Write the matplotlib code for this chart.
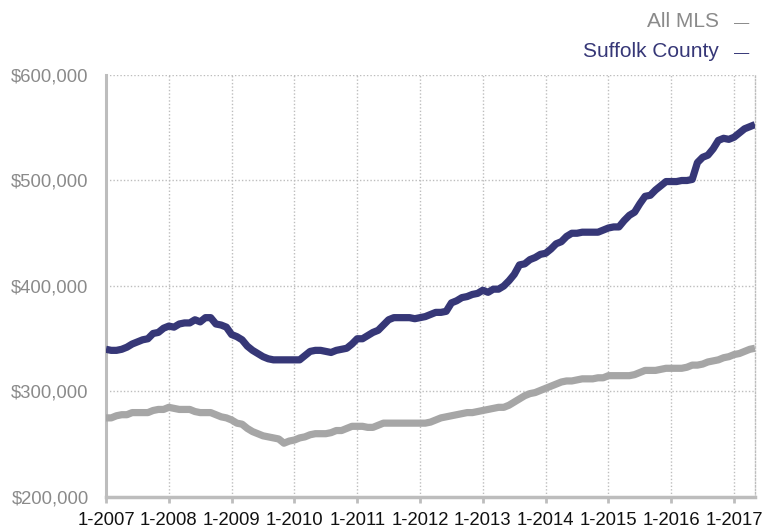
import matplotlib
matplotlib.use("Agg")
import matplotlib.pyplot as plt
import numpy as np

plt.rcParams['font.family'] = ['Liberation Sans', 'DejaVu Sans']

# Monthly median prices (thousands of $), Jan 2007 .. May 2017
suffolk = [
    340, 339, 339, 340, 342, 345, 347, 349, 350, 355, 356, 360,   # 2007
    362, 361, 364, 365, 365, 368, 366, 370, 370, 364, 363, 361,   # 2008
    354, 352, 349, 343, 339, 336, 333, 331, 330, 330, 330, 330,   # 2009
    330, 330, 334, 338, 339, 339, 338, 337, 339, 340, 341, 345,   # 2010
    350, 350, 353, 356, 358, 363, 368, 370, 370, 370, 370, 369,   # 2011
    370, 371, 373, 375, 375, 376, 384, 386, 389, 390, 392, 393,   # 2012
    396, 394, 397, 397, 400, 405, 411, 420, 421, 425, 427, 430,   # 2013
    431, 435, 440, 442, 447, 450, 450, 451, 451, 451, 451, 453,   # 2014
    455, 456, 456, 462, 467, 470, 478, 485, 486, 491, 495, 499,   # 2015
    499, 499, 500, 500, 501, 517, 522, 524, 530, 538, 540, 539,   # 2016
    541, 545, 549, 551, 553,                                      # 2017
]
all_mls = [
    275, 275, 277, 278, 278, 280, 280, 280, 280, 282, 283, 283,   # 2007
    285, 284, 283, 283, 283, 281, 280, 280, 280, 278, 276, 275,   # 2008
    273, 270, 269, 265, 262, 260, 258, 257, 256, 255, 251, 253,   # 2009
    254, 256, 257, 259, 260, 260, 260, 261, 263, 263, 265, 267,   # 2010
    267, 267, 266, 266, 268, 270, 270, 270, 270, 270, 270, 270,   # 2011
    270, 270, 271, 273, 275, 276, 277, 278, 279, 280, 280, 281,   # 2012
    282, 283, 284, 285, 285, 287, 290, 293, 296, 298, 299, 301,   # 2013
    303, 305, 307, 309, 310, 310, 311, 312, 312, 312, 313, 313,   # 2014
    315, 315, 315, 315, 315, 316, 318, 320, 320, 320, 321, 322,   # 2015
    322, 322, 322, 323, 325, 325, 326, 328, 329, 330, 332, 333,   # 2016
    335, 336, 338, 340, 341,                                      # 2017
]
x_labels = ["1-2007", "1-2008", "1-2009", "1-2010", "1-2011", "1-2012",
            "1-2013", "1-2014", "1-2015", "1-2016", "1-2017"]
y_ticks = [200000, 300000, 400000, 500000, 600000]
series_names = ["All MLS", "Suffolk County"]

NAVY = "#363777"
GREY = "#a6a6a6"
AXIS = "#bdbdbd"
LABEL = "#8a8a8a"

W, H = 778, 531
fig = plt.figure(figsize=(W / 100, H / 100), dpi=100)
ax = fig.add_axes([106 / W, 1 - 497 / H, (755 - 106) / W, (497 - 75) / H])

months = np.arange(len(suffolk))
ax.plot(months, np.array(all_mls) * 1000, color=GREY, lw=5.2, solid_capstyle='butt', zorder=3)
ax.plot(months, np.array(suffolk) * 1000, color=NAVY, lw=5.2, solid_capstyle='butt', zorder=4)

ax.set_xlim(0, len(suffolk) - 1)
ax.set_ylim(200000, 600000)
ax.set_yticks(y_ticks)
ax.set_yticklabels([f"${v:,.0f}" for v in y_ticks])
ax.set_xticks(np.arange(len(x_labels)) * 12)
ax.set_xticklabels(x_labels)

ax.grid(True, color=AXIS, linestyle=(0, (1, 1.5)), linewidth=1, zorder=0)
ax.spines['top'].set_visible(False)
ax.spines['right'].set_color(AXIS)
ax.spines['right'].set_linestyle((0, (1, 1.5)))
ax.spines['right'].set_linewidth(1)
ax.spines['left'].set_color(AXIS)
ax.spines['left'].set_linewidth(2.2)
ax.spines['bottom'].set_color(AXIS)
ax.spines['bottom'].set_linewidth(2.5)

ax.tick_params(axis='y', length=0, pad=12.5, labelsize=13.3, labelcolor=LABEL)
ax.tick_params(axis='x', length=4, width=2, color=AXIS, pad=7, labelsize=13.3, labelcolor="#111111")

# legend entries (text + dash)
for name, col, yb in [(series_names[0], LABEL, 27), (series_names[1], NAVY, 57)]:
    fig.text(719 / W, 1 - yb / H, name, ha='right', va='baseline', fontsize=15, color=col)
    fig.text(742 / W, 1 - yb / H, "—", ha='center', va='baseline', fontsize=11, color=col)

fig.savefig("out.png", dpi=100)
